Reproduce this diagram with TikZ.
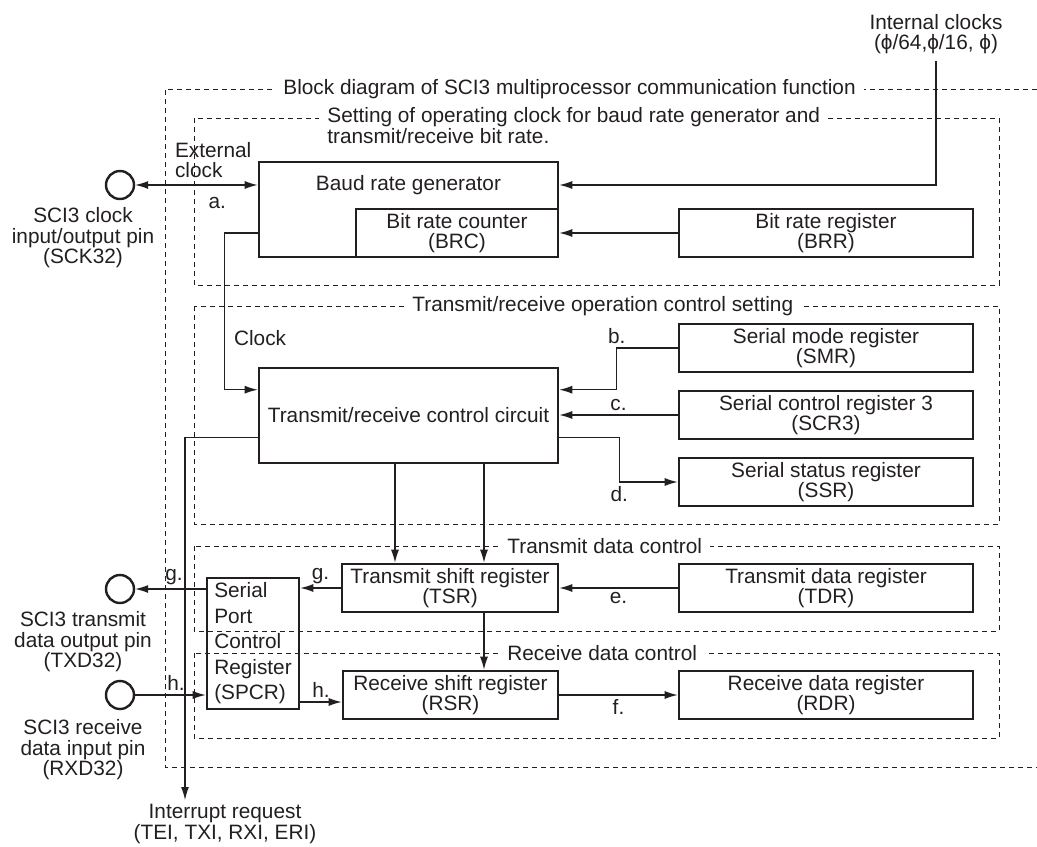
\documentclass[tikz,border=0pt]{standalone}
\usepackage{fontspec}
\setmainfont{Liberation Sans}
\usetikzlibrary{arrows.meta,calc}
\definecolor{ink}{RGB}{35,31,32}
\def \Outer{(1037,89) -| (165,767) -- (1037,767)}
\def \Clk{(194,118) rectangle (999,285)}
\def \Ctl{(194,306) rectangle (999,524)}
\def \Tx{(194,546) rectangle (999,631)}
\def \Rx{(194,653) rectangle (999,738)}

\begin{document}
\begin{tikzpicture}[x=0.5pt,y=-0.5pt,color=ink,
  font=\fontsize{10.4}{10.3}\selectfont,
  dashframe/.style={dash pattern=on 2.5pt off 2pt,line width=0.5pt},
  frametitle/.style={fill=white,inner xsep=4pt,inner ysep=1pt,anchor=west},
  reg/.style={draw,line width=1.3pt,align=center,minimum height=24pt,inner sep=0pt},
  iopin/.style={draw,circle,line width=1.2pt,minimum size=14pt,inner sep=0pt},
  sig/.style={line width=0.6pt,-{Latex[length=6.5pt,width=4pt]}},
  lbl/.style={inner sep=2pt}]
\useasboundingbox (0,0) rectangle (1037,846);
% dashed frames
\draw[dashframe] \Outer;
\draw[dashframe] \Clk;
\draw[dashframe] \Ctl;
\draw[dashframe] \Tx;
\draw[dashframe] \Rx;
\node[frametitle] (outtitle) at (275,89) {Block diagram of SCI3 multiprocessor communication function};
\node[frametitle,anchor=north west,align=left] (clktitle) at (319,105)
  {Setting of operating clock for baud rate generator and\\transmit/receive bit rate.};
\node[frametitle] (ctltitle) at (404,306) {Transmit/receive operation control setting};
\node[frametitle] (txtitle) at (499,546) {Transmit data control};
\node[frametitle] (rxtitle) at (499,653) {Receive data control};
% blocks
\node[reg,minimum width=149.5pt,minimum height=47.5pt] (brg) at (408.5,209.5) {};
\node (brgtext) at (408.5,185) {Baud rate generator};
\node[reg,minimum width=101pt] (brc) at (457,233) {Bit rate counter\\(BRC)};
\node[reg,minimum width=147pt] (brr) at (826,233) {Bit rate register\\(BRR)};
\node[reg,minimum width=149.5pt,minimum height=47.5pt] (trc) at (408.5,415.5) {Transmit/receive control circuit};
\node[reg,minimum width=147pt] (smr) at (826,348) {Serial mode register\\(SMR)};
\node[reg,minimum width=147pt] (scr) at (826,415) {Serial control register 3\\(SCR3)};
\node[reg,minimum width=147pt] (ssr) at (826,482) {Serial status register\\(SSR)};
\node[reg,minimum width=108pt] (tsr) at (450,588) {Transmit shift register\\(TSR)};
\node[reg,minimum width=147pt] (tdr) at (826,588) {Transmit data register\\(TDR)};
\node[reg,minimum width=107.5pt] (rsr) at (450.5,695) {Receive shift register\\(RSR)};
\node[reg,minimum width=147pt] (rdr) at (826,695) {Receive data register\\(RDR)};
\node[reg,minimum width=46pt,minimum height=65.5pt,align=left,
  font=\fontsize{10.4}{12.75}\selectfont] (spcr) at (253,643.5) {Serial\\Port\\Control\\Register\\(SPCR)};
% pins
\node[iopin] (sck) at (120,185) {};
\node[iopin] (txd) at (120,589) {};
\node[iopin] (rxd) at (120,695) {};
\node[align=center] (sckname) at (83,238) {SCI3 clock\\input/output pin\\(SCK32)};
\node[align=center] (txdname) at (83,642) {SCI3 transmit\\data output pin\\(TXD32)};
\node[align=center] (rxdname) at (83,750) {SCI3 receive\\data input pin\\(RXD32)};
\node[align=center] (intclk) at (936,34) {Internal clocks\\(ϕ/64,ϕ/16, ϕ)};
\node[align=center] (intreq) at (225,824) {Interrupt request\\(TEI, TXI, RXI, ERI)};
\node[align=left,anchor=west] (extclk) at (168,160) {External\\clock};
\node[anchor=west] (clklbl) at (227,338) {Clock};
\coordinate (irq) at (185,800);
\coordinate (txcol) at (395,0);
\coordinate (rxcol) at (484,0);
% connectors
\draw[sig] (intclk.south) |- (brg.east |- brgtext);
\draw[sig,{Latex[length=6.5pt,width=4pt]}-{Latex[length=6.5pt,width=4pt]}] (sck) -- (brg.west |- sck)
  node[lbl,pos=0.67,below=4pt] {a.};
\draw[sig] (brr) -- (brc);
\draw[sig] (brg.west |- brc) -- ++(-33,0) |- ([yshift=-11.5pt]trc.north west);
\draw[sig] (smr.west) -- ++(-61,0) node[lbl,above] {b.} |- ([yshift=-11.5pt]trc.north east);
\draw[sig] (scr.west) -- (trc.east |- scr.west) node[lbl,midway,above] {c.};
\draw[sig] ([yshift=-35.5pt]trc.north east) -- ++(60,0) |- node[lbl,pos=0.5,below] {d.} (ssr.west);
\draw[sig] ([yshift=-35.5pt]trc.north west) -| (irq);
\draw[sig] (trc.south -| txcol) -- (tsr.north -| txcol);
\draw[sig] (trc.south -| rxcol) -- (tsr.north -| rxcol);
\draw[sig] (tsr.south -| rxcol) -- (rsr.north -| rxcol);
\draw[sig] (tdr) -- (tsr) node[lbl,midway,below] {e.};
\draw[sig] (rsr) -- (rdr) node[lbl,midway,below] {f.};
\draw[sig] (tsr.west) -- (spcr.east |- tsr.west) node[lbl,midway,above] {g.};
\draw[sig] (spcr.west |- txd) -- (txd) node[lbl,pos=0.45,above] {g.};
\draw[sig] (rxd) -- (spcr.west |- rxd) node[lbl,pos=0.58,above] {h.};
\draw[sig] ($(spcr.east |- rsr.west)+(0,7)$) -- ($(rsr.west)+(0,7)$) node[lbl,midway,above] {h.};
\end{tikzpicture}
\end{document}
